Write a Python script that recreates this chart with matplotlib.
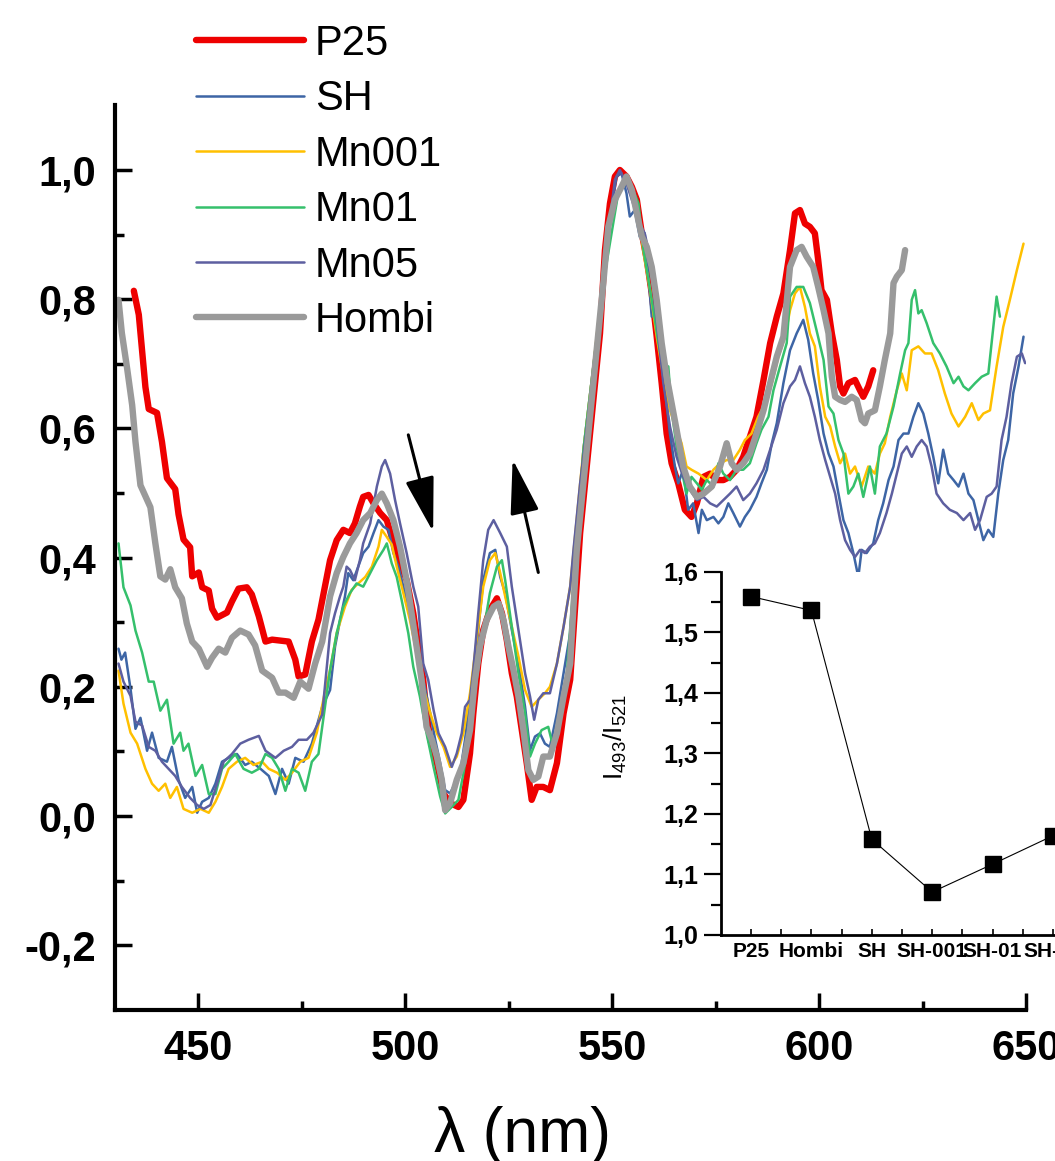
import matplotlib
matplotlib.use('Agg')
import matplotlib.pyplot as plt

plt.rcParams['font.family'] = ['Liberation Sans', 'DejaVu Sans']
plt.rcParams['mathtext.fontset'] = 'custom'
plt.rcParams['mathtext.rm'] = 'Liberation Sans'

# spectra as (wavelength nm, normalised intensity)
p25 = [(434.5, .813), (435.7, .776), (436.5, .720), (437.3, .664), (438.1, .630), (440.1, .624), (441.3, .579),
       (442.5, .523), (444.5, .506), (445.3, .467), (446.5, .428), (448.1, .416), (448.6, .371), (450.2, .377),
       (451.0, .354), (452.6, .349), (453.4, .321), (454.6, .307), (457.0, .315), (458.2, .332), (459.8, .352),
       (461.8, .354), (463.0, .343), (464.7, .309), (466.3, .270), (467.9, .273), (471.9, .270), (473.5, .242),
       (474.3, .216), (475.9, .219), (477.5, .270), (479.1, .304),
       (481.9, .396), (483.5, .427), (485.1, .443), (486.7, .438), (487.9, .453), (489.1, .479), (489.9, .494),
       (491.2, .497), (492.4, .484), (494.0, .469), (495.6, .458), (498.0, .407), (500.4, .365), (502.0, .314),
       (503.2, .262), (504.4, .211), (505.2, .159), (506.1, .118), (507.7, .082), (509.3, .035), (510.9, .020),
       (512.9, .014), (514.1, .025), (515.7, .097), (516.5, .159), (517.7, .236), (518.9, .288), (520.5, .319),
       (522.2, .337), (523.4, .314), (524.6, .272), (525.8, .221), (527.0, .185), (528.2, .133), (529.4, .082),
       (530.6, .025), (531.8, .045), (533.4, .045), (535.0, .040), (536.7, .082), (538.3, .159), (539.9, .211),
       (542.3, .438), (543.9, .541), (545.5, .644), (547.1, .747), (548.3, .876), (549.5, .948), (550.7, .990),
       (551.9, 1.000), (553.5, .990), (554.8, .974), (556.0, .954), (557.2, .902), (558.4, .861), (559.6, .809),
       (560.8, .742), (562.0, .670), (563.2, .592), (564.4, .546), (566.0, .515), (567.6, .474), (569.2, .463),
       (570.5, .484), (572.1, .525), (573.7, .530), (575.3, .520), (576.9, .520), (578.5, .525), (580.1, .536),
       (581.7, .556), (583.3, .587), (584.9, .618), (586.6, .675), (588.2, .732), (589.8, .773), (591.4, .809),
       (593.0, .876), (594.2, .933), (595.4, .938), (596.6, .917), (597.8, .912), (599.0, .902), (599.8, .861),
       (600.6, .814), (601.9, .799), (603.1, .747), (604.3, .706), (605.1, .665), (605.9, .654), (607.1, .670),
       (608.7, .675), (609.9, .659), (610.7, .649), (611.9, .665), (613.1, .690)]

sh = [(430.8, .259), (431.5, .242), (432.4, .253), (433.7, .197), (434.9, .135), (436.1, .152), (437.7, .101),
      (438.9, .129), (440.5, .090), (442.5, .084), (443.7, .107), (445.3, .056), (446.9, .028), (448.6, .045),
      (449.8, .005), (451.0, .022), (452.6, .028), (454.2, .050), (455.8, .084), (457.4, .090), (459.4, .096),
      (461.4, .079), (463.0, .084), (465.1, .073), (467.1, .062), (468.7, .034), (470.3, .073), (471.9, .050),
      (473.5, .090), (475.5, .084), (477.5, .112), (480.0, .169),
      (481.9, .195), (483.1, .262), (484.3, .303), (485.5, .340), (486.3, .376), (487.5, .365), (488.7, .386),
      (489.9, .407), (491.2, .417), (492.4, .438), (493.6, .458), (494.8, .448), (496.0, .443), (497.2, .407),
      (498.4, .386), (499.6, .355), (501.2, .314), (502.8, .262), (504.4, .211), (506.1, .159), (507.3, .118),
      (508.5, .082), (509.7, .040), (510.9, .035), (512.1, .051), (513.3, .066), (514.5, .118), (515.7, .180),
      (517.3, .262), (518.9, .365), (520.5, .407), (521.8, .412), (523.0, .370), (524.2, .345), (525.8, .288),
      (527.4, .236), (529.0, .169), (530.2, .102), (531.4, .123), (532.6, .128), (533.8, .112), (535.0, .107),
      (536.7, .159), (538.3, .221), (539.9, .283),
      (543.1, .567), (545.5, .696), (547.9, .825), (549.5, .928), (551.1, .990), (552.3, .995), (553.5, .964),
      (554.3, .928), (555.5, .938), (556.7, .897), (557.9, .902), (558.8, .835), (559.6, .773), (560.4, .783),
      (561.6, .721), (562.8, .659), (564.0, .592), (565.2, .541), (566.0, .515), (567.2, .536), (568.4, .474),
      (569.6, .484), (570.9, .438), (571.7, .474), (572.9, .458), (574.5, .463), (575.7, .453), (576.9, .463),
      (578.1, .484), (579.3, .469), (580.9, .448), (582.1, .463), (583.3, .474), (584.9, .494), (586.1, .515),
      (587.4, .536), (588.6, .577), (589.8, .608), (591.4, .670),
      (593.0, .721), (594.6, .747), (596.2, .768), (597.4, .737), (598.6, .685), (599.8, .644), (601.1, .592),
      (602.3, .561), (603.5, .541), (604.7, .499), (605.9, .458), (607.1, .438), (608.3, .407), (609.5, .370),
      (610.3, .412), (611.5, .407), (613.1, .422), (614.3, .458), (615.5, .484), (616.8, .520), (618.0, .541),
      (619.2, .582), (620.4, .592), (621.6, .592), (622.8, .618), (624.0, .639), (625.2, .623), (626.4, .592),
      (627.6, .556), (628.8, .515), (630.0, .567), (631.2, .530), (632.5, .520), (633.7, .510), (634.9, .530),
      (636.1, .499), (637.3, .489), (638.5, .458), (639.7, .427), (640.9, .443), (642.1, .432), (643.3, .499),
      (644.5, .551), (645.7, .582), (646.9, .654), (648.2, .696), (649.4, .742)]

mn001 = [(430.8, .225), (432.0, .174), (433.7, .129), (435.3, .112), (437.3, .073), (438.9, .050), (440.5, .039),
         (442.1, .050), (443.3, .028), (444.9, .045), (446.5, .011), (448.6, .005), (450.6, .011), (452.6, .005),
         (454.2, .022), (455.8, .045), (457.4, .073), (459.4, .084), (461.4, .090), (463.4, .079), (465.5, .084),
         (467.1, .073), (469.1, .067), (471.1, .056), (472.7, .067), (474.7, .084), (476.7, .090), (478.7, .129),
         (480.8, .197),
         (481.9, .226), (483.5, .283), (485.5, .324), (487.1, .350), (488.7, .360), (490.4, .370), (492.0, .386),
         (493.6, .417), (494.4, .443), (495.6, .432), (496.8, .420), (498.0, .386), (499.6, .345), (501.2, .303),
         (502.8, .252), (504.4, .200), (506.1, .159), (507.7, .128), (509.3, .107), (510.9, .076), (512.5, .092),
         (514.1, .128), (515.7, .190), (517.3, .272), (518.9, .355), (520.5, .396), (521.8, .407), (523.0, .376),
         (524.2, .340), (525.8, .293), (527.4, .247), (529.0, .195), (530.6, .169), (532.2, .180), (533.8, .190),
         (535.0, .200), (536.7, .236), (538.3, .293), (539.9, .355),
         (543.1, .567), (545.5, .696), (547.9, .835), (549.5, .928), (551.1, .959), (552.7, .974), (553.9, .990),
         (555.1, .954), (556.7, .912), (557.9, .861), (559.2, .814), (560.8, .742), (562.4, .680), (564.0, .628),
         (565.6, .598), (566.8, .577), (568.0, .541), (569.2, .536), (570.9, .530), (572.9, .520), (574.5, .536),
         (576.1, .546), (577.7, .551), (579.3, .551), (580.9, .567), (582.1, .582), (583.7, .592), (585.3, .618),
         (587.0, .639), (588.6, .670), (590.2, .711), (591.8, .742),
         (593.0, .783), (594.2, .809), (595.4, .819), (596.6, .788), (597.8, .747), (599.0, .727), (600.2, .665),
         (601.5, .618), (602.7, .603), (603.9, .572), (605.1, .546), (606.3, .561), (607.5, .530), (608.7, .541),
         (610.3, .510), (611.9, .541), (613.5, .530), (614.7, .561), (615.9, .577), (617.2, .618), (618.8, .659),
         (620.0, .685), (621.2, .659), (622.4, .721), (624.0, .727), (625.6, .716), (627.2, .716), (628.8, .690),
         (630.4, .654), (632.0, .623), (633.7, .603), (635.3, .618), (636.9, .639), (638.5, .613), (639.7, .623),
         (641.3, .628), (642.9, .696), (644.5, .757), (646.1, .799), (647.8, .845), (649.4, .886)]

mn01 = [(430.8, .422), (432.0, .354), (433.7, .326), (434.9, .287), (436.5, .253), (438.1, .208), (439.3, .208),
        (440.9, .163), (442.5, .180), (444.1, .112), (445.7, .129), (446.5, .101), (447.7, .112), (449.4, .062),
        (451.0, .079), (452.6, .034), (454.2, .034), (455.8, .073), (457.4, .084), (459.0, .096), (461.0, .073),
        (463.0, .067), (464.7, .073), (466.3, .096), (467.9, .090), (469.5, .073), (471.1, .039), (472.7, .073),
        (474.3, .067), (475.9, .039), (477.5, .084), (479.1, .096),
        (481.9, .226), (483.5, .283), (485.1, .324), (486.7, .345), (488.3, .360), (489.9, .355), (491.6, .376),
        (493.2, .396), (494.8, .412), (495.6, .422), (496.8, .391), (498.0, .370), (499.2, .334), (500.8, .283),
        (502.0, .231), (503.6, .185), (505.2, .128), (506.9, .076), (508.5, .030), (509.7, .004), (511.3, .014),
        (512.9, .025), (514.1, .066), (515.7, .128), (517.3, .211), (518.9, .283), (520.5, .345), (522.2, .386),
        (523.4, .396), (524.2, .365), (525.8, .293), (527.4, .221), (529.0, .159), (530.2, .092), (531.4, .112),
        (533.0, .133), (534.6, .138), (535.8, .107), (537.5, .159), (539.1, .221),
        (543.1, .567), (545.5, .696), (547.9, .825), (549.9, .902), (551.5, .964), (553.1, .979), (554.8, .974),
        (556.4, .948), (557.6, .876), (558.8, .830), (560.0, .783), (561.2, .732), (562.4, .690), (563.6, .696),
        (564.4, .628), (565.6, .572), (566.8, .536), (568.0, .499), (569.2, .525), (570.5, .515), (571.7, .505),
        (572.9, .520), (574.5, .510), (575.7, .546), (576.9, .530), (578.5, .520), (580.1, .536), (581.7, .536),
        (583.3, .546), (584.9, .577), (586.1, .598), (587.8, .618), (589.0, .659), (590.6, .696), (592.2, .732),
        (593.0, .804), (594.6, .819), (596.2, .819), (597.8, .794), (599.4, .752), (601.1, .706), (602.3, .634),
        (603.5, .623), (604.7, .582), (605.9, .561), (607.1, .499), (608.3, .510), (609.5, .530), (610.7, .494),
        (612.3, .541), (613.5, .499), (614.7, .572), (616.3, .592), (618.0, .634), (619.6, .685), (620.8, .721),
        (621.6, .732), (622.4, .799), (623.2, .814), (624.0, .778), (624.8, .783), (626.0, .763), (627.6, .732),
        (629.2, .716), (630.8, .696), (632.5, .670), (633.7, .680), (634.9, .665), (636.1, .659), (637.7, .670),
        (639.3, .680), (640.9, .685), (642.1, .757), (642.9, .804), (643.7, .773)]

mn05 = [(430.8, .236), (432.0, .208), (433.7, .186), (434.9, .146), (436.5, .140), (438.1, .107), (439.7, .101),
        (441.3, .084), (442.9, .073), (444.5, .062), (446.1, .045), (448.1, .028), (449.8, .017), (451.4, .011),
        (453.0, .017), (454.6, .050), (456.2, .084), (458.2, .096), (460.2, .112), (462.2, .118), (464.7, .124),
        (466.3, .101), (468.7, .090), (470.7, .101), (472.7, .107), (474.3, .118), (476.3, .118), (477.9, .129),
        (480.0, .157),
        (481.9, .283), (483.1, .314), (484.3, .340), (485.1, .355), (485.9, .386), (486.7, .381), (487.9, .365),
        (489.1, .396), (489.9, .422), (491.6, .453), (493.2, .510), (494.4, .541), (495.2, .551), (496.4, .530),
        (497.6, .489), (498.8, .453), (500.4, .407), (502.0, .355), (503.2, .324), (504.4, .236), (505.6, .211),
        (506.9, .164), (508.1, .128), (509.7, .107), (511.3, .076), (512.5, .097), (513.7, .128), (514.5, .169),
        (515.7, .180), (516.5, .226), (517.7, .314), (518.9, .396), (520.1, .443), (521.4, .458), (523.0, .438),
        (524.6, .417), (525.8, .355), (527.4, .288), (529.0, .221), (530.2, .185), (531.2, .149), (532.2, .180),
        (533.4, .190), (535.0, .190), (536.7, .236), (538.3, .293), (539.9, .355),
        (540.7, .412), (542.3, .515), (544.7, .644), (547.1, .783), (549.1, .902), (550.7, .985), (551.9, 1.000),
        (553.5, .979), (555.1, .948), (556.7, .917), (557.9, .902), (558.8, .876), (560.0, .814), (561.2, .742),
        (562.4, .670), (564.0, .603), (565.6, .556), (567.2, .525), (568.8, .505), (570.5, .489), (572.1, .494),
        (573.7, .484), (575.3, .479), (576.9, .489), (578.5, .499), (580.1, .510), (581.7, .489), (583.3, .499),
        (584.9, .515), (586.6, .536), (588.2, .567), (589.8, .598), (591.4, .639),
        (593.0, .665), (594.2, .675), (595.4, .696), (596.6, .670), (597.8, .649), (599.0, .618), (600.2, .582),
        (601.5, .551), (602.7, .525), (603.9, .499), (605.1, .458), (606.3, .427), (607.5, .412), (608.7, .401),
        (609.9, .412), (611.1, .407), (612.3, .417), (613.5, .422), (614.7, .438), (616.3, .469), (617.6, .499),
        (618.8, .530), (620.0, .561), (621.2, .572), (622.4, .556), (623.6, .572), (624.8, .582), (626.0, .572),
        (627.2, .541), (628.4, .499), (630.0, .484), (631.6, .474), (633.3, .469), (634.9, .458), (636.5, .469),
        (637.7, .443), (638.9, .458), (640.5, .494), (641.7, .499), (642.9, .510), (644.1, .582), (645.3, .618),
        (646.5, .670), (647.8, .711), (649.0, .716), (649.8, .701)]

hombi = [(430.8, .799), (431.6, .748), (432.9, .692), (434.1, .636), (434.9, .579), (436.1, .512), (437.3, .495),
         (438.5, .478), (439.7, .422), (440.9, .371), (442.1, .366), (443.3, .382), (444.5, .354), (446.1, .337),
         (447.3, .298), (448.6, .270), (450.2, .259), (452.2, .231), (453.4, .245), (455.0, .259), (456.6, .253),
         (458.2, .276), (460.2, .287), (462.2, .281), (463.8, .264), (465.5, .225), (467.9, .214), (469.5, .191),
         (471.1, .191), (473.1, .183), (474.7, .208), (476.7, .197), (478.3, .236), (480.0, .270),
         (481.9, .340), (483.5, .376), (485.1, .401), (486.7, .422), (488.3, .438), (489.9, .458), (491.6, .469),
         (493.2, .489), (494.4, .499), (495.6, .484), (497.2, .458), (498.8, .417), (500.4, .365), (501.6, .314),
         (502.8, .262), (504.0, .211), (505.2, .138), (506.5, .118), (507.7, .092), (508.9, .056), (509.7, .009),
         (510.9, .020), (512.5, .056), (514.1, .082), (515.7, .133), (516.9, .211), (518.1, .262), (519.7, .303),
         (521.4, .324), (522.6, .329), (523.8, .303), (525.0, .262), (526.2, .226), (527.4, .185), (528.6, .133),
         (529.8, .071), (531.0, .056), (532.2, .061), (533.4, .092), (535.0, .092), (536.7, .128), (538.3, .185),
         (539.9, .236),
         (541.5, .412), (543.1, .515), (544.7, .618), (546.3, .721), (547.9, .825), (549.1, .912), (550.7, .954),
         (552.3, .974), (553.5, .990), (554.8, .969), (556.0, .933), (557.2, .897), (558.4, .881), (559.6, .850),
         (560.8, .799), (562.0, .732), (563.2, .680), (564.4, .639), (565.6, .598), (567.2, .541), (568.8, .510),
         (570.5, .494), (572.1, .499), (574.1, .510), (576.1, .541), (577.7, .577), (578.9, .546), (580.1, .536),
         (581.7, .546), (583.3, .561), (584.9, .592), (586.6, .628), (588.2, .670), (589.8, .711), (591.4, .742),
         (593.0, .850), (594.6, .876), (595.8, .881), (597.0, .866), (598.6, .850), (599.8, .819), (601.1, .783),
         (602.3, .747), (603.1, .680), (603.9, .649), (605.1, .644), (606.3, .641), (607.9, .649), (609.1, .644),
         (610.3, .613), (611.1, .608), (611.9, .623), (613.5, .628), (614.7, .665), (615.9, .706), (617.2, .747),
         (618.0, .825), (618.8, .835), (620.0, .845), (620.8, .876)]

names = ['P25', 'SH', 'Mn001', 'Mn01', 'Mn05', 'Hombi']
spectra = [p25, sh, mn001, mn01, mn05, hombi]
colors = ['#ee0000', '#3d65a5', '#ffc000', '#35c06c', '#5d5fa0', '#9a9a9a']
widths = [4.6, 1.8, 1.8, 1.8, 1.8, 4.6]

# inset: I493/I521 ratio per sample
samples = ['P25', 'Hombi', 'SH', 'SH-001', 'SH-01', 'SH-05']
ratio = [1.559, 1.536, 1.158, 1.071, 1.117, 1.164]

xticks = [450, 500, 550, 600, 650]
yticks = [-0.2, 0.0, 0.2, 0.4, 0.6, 0.8, 1.0]
inset_yticks = [1.0, 1.1, 1.2, 1.3, 1.4, 1.5, 1.6]


def comma(v):
    return f'{v:.1f}'.replace('.', ',')


W, H = 1055, 1161
fig = plt.figure(figsize=(W / 100, H / 100), dpi=100)

ax = fig.add_axes([115.2 / W, 1 - 1009.8 / H, 910.8 / W, 904.4 / H])
for name, pts, c, lw in zip(names, spectra, colors, widths):
    ax.plot([p[0] for p in pts], [p[1] for p in pts], color=c, lw=lw, label=name,
            solid_joinstyle='round', solid_capstyle='round')

ax.set_xlim(430, 650)
ax.set_ylim(-0.3, 1.1)
ax.set_xticks(xticks, [str(v) for v in xticks], fontsize=30, fontweight='bold')
ax.set_xticks([475, 525, 575, 625], minor=True)
ax.set_yticks(yticks, [comma(v) for v in yticks], fontsize=30, fontweight='bold')
ax.set_yticks([-0.1, 0.1, 0.3, 0.5, 0.7, 0.9], minor=True)
ax.tick_params(which='major', direction='in', length=12, width=2.5, pad=14)
ax.tick_params(which='minor', direction='in', length=6.5, width=2.5)
for s in ['top', 'right']:
    ax.spines[s].set_visible(False)
for s in ['left', 'bottom']:
    ax.spines[s].set_linewidth(3)

# arrows marking the 493 / 521 nm band changes
arrow = dict(arrowstyle='-|>,head_length=3.4,head_width=0.9', color='k', lw=2.2,
             shrinkA=0, shrinkB=0, mutation_scale=10)
ax.annotate('', xy=(506.8, 0.440), xytext=(500.8, 0.590), arrowprops=arrow)
ax.annotate('', xy=(526.0, 0.552), xytext=(532.2, 0.377), arrowprops=arrow)

fig.legend(loc='upper left', bbox_to_anchor=(196 / W, 1 - 24 / H), frameon=False,
           fontsize=30, handlelength=2.6, handletextpad=0.25, labelspacing=0.37,
           borderpad=0, borderaxespad=0)

fig.text(522 / W, 1 - 1152 / H, 'λ (nm)', ha='center', va='baseline', fontsize=45)

# inset
ax2 = fig.add_axes([720.8 / W, 1 - 935 / H, 362.4 / W, 363.3 / H])
ax2.plot(range(len(samples)), ratio, color='k', lw=0.8, marker='s', ms=11.5)
ax2.set_xlim(-0.5, 5.5)
ax2.set_ylim(1.0, 1.6)
ax2.set_xticks(range(len(samples)), samples, fontsize=15, fontweight='bold')
ax2.set_xticks([0.5, 1.5, 2.5, 3.5, 4.5], minor=True)
ax2.set_yticks(inset_yticks, [comma(v) for v in inset_yticks], fontsize=18, fontweight='bold')
ax2.set_yticks([1.05, 1.15, 1.25, 1.35, 1.45, 1.55], minor=True)
ax2.tick_params(axis='y', which='major', direction='out', length=12, width=1.6, pad=4)
ax2.tick_params(axis='y', which='minor', direction='out', length=7, width=1.6)
ax2.tick_params(axis='x', which='both', direction='in', length=4, width=1.2, pad=5)
for s in ['top', 'right']:
    ax2.spines[s].set_visible(False)
for s in ['left', 'bottom']:
    ax2.spines[s].set_linewidth(2)
fig.text(615 / W, 1 - 737 / H, r'I$_{\mathregular{493}}$/I$_{\mathregular{521}}$',
         rotation=90, ha='center', va='center', fontsize=19)

fig.savefig('out.png', dpi=100)
